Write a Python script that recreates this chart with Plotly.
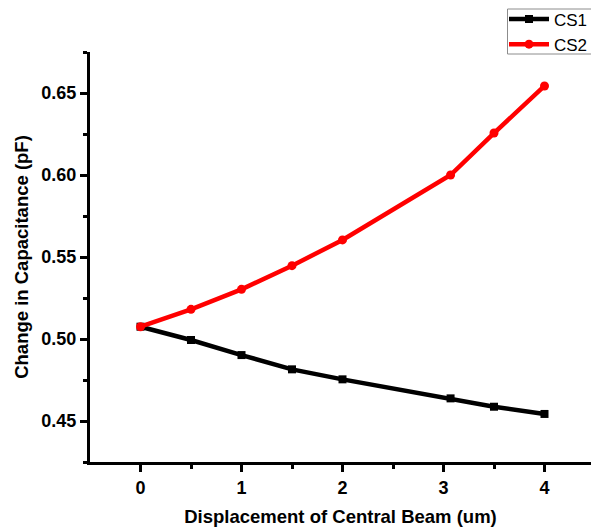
import plotly.graph_objects as go

displacement = [0, 0.5, 1, 1.5, 2, 3.07, 3.5, 4]
cs1 = [0.5075, 0.4994, 0.4902, 0.4815, 0.4754, 0.4638, 0.4587, 0.4543]
cs2 = [0.5075, 0.5181, 0.5303, 0.5447, 0.5604, 0.6000, 0.6256, 0.6543]

FONT = "Liberation Sans, Arial, sans-serif"

W, H = 591, 528
ML, MT, MB, MR = 90, 52, 66, 0
PW, PH = W - ML - MR, H - MT - MB


def px(x):
    return (x - ML) / PW


def py(y):
    return 1 + (MT - y) / PH


fig = go.Figure()
fig.add_trace(go.Scatter(x=displacement, y=cs1, name="CS1", mode="lines+markers",
                         line=dict(color="black", width=4.5),
                         marker=dict(symbol="square", size=8, color="black")))
fig.add_trace(go.Scatter(x=displacement, y=cs2, name="CS2", mode="lines+markers",
                         line=dict(color="#ff0000", width=4.5),
                         marker=dict(symbol="circle", size=9, color="#ff0000")))

fig.add_shape(type="rect", xref="paper", yref="paper",
              x0=px(507.5), x1=px(640), y0=py(54), y1=py(9),
              line=dict(color="#8c8c8c", width=1), fillcolor="rgba(0,0,0,0)")

fig.update_layout(
    width=W, height=H,
    margin=dict(l=ML, r=MR, t=MT, b=MB, autoexpand=False),
    plot_bgcolor="white", paper_bgcolor="white",
    font=dict(family=FONT, color="black"),
    legend=dict(x=px(504), y=py(1.5), xanchor="left", yanchor="top",
                borderwidth=0, bgcolor="rgba(0,0,0,0)",
                font=dict(size=17, family=FONT, color="black"),
                itemwidth=40, tracegroupgap=0),
    xaxis=dict(range=[-0.5, -0.5 + PW / 101.0], tickvals=[0, 1, 2, 3, 4],
               showline=True, linecolor="black", linewidth=3,
               ticks="outside", ticklen=7, tickwidth=3, tickcolor="black",
               minor=dict(tickvals=[0.5, 1.5, 2.5, 3.5], ticklen=4, tickwidth=3,
                          tickcolor="black", ticks="outside"),
               showgrid=False, zeroline=False,
               tickfont=dict(size=18, family=FONT, weight="bold"),
               title=dict(text="<b>Displacement of Central Beam (um)</b>",
                          font=dict(size=18.5, family=FONT), standoff=14)),
    yaxis=dict(range=[0.425, 0.675], tickvals=[0.45, 0.50, 0.55, 0.60, 0.65],
               ticktext=["0.45", "0.50", "0.55", "0.60", "0.65"],
               showline=True, linecolor="black", linewidth=3,
               ticks="outside", ticklen=7, tickwidth=3, tickcolor="black",
               minor=dict(tickvals=[0.425, 0.475, 0.525, 0.575, 0.625, 0.675], ticklen=4,
                          tickwidth=3, tickcolor="black", ticks="outside"),
               showgrid=False, zeroline=False,
               tickfont=dict(size=18, family=FONT, weight="bold"),
               title=dict(text="<b>Change in Capacitance (pF)</b>",
                          font=dict(size=18.5, family=FONT), standoff=8)),
)

fig.write_html("out.html", config={"displayModeBar": False},
               post_script="document.body.style.margin='0';document.body.style.overflow='hidden';")
